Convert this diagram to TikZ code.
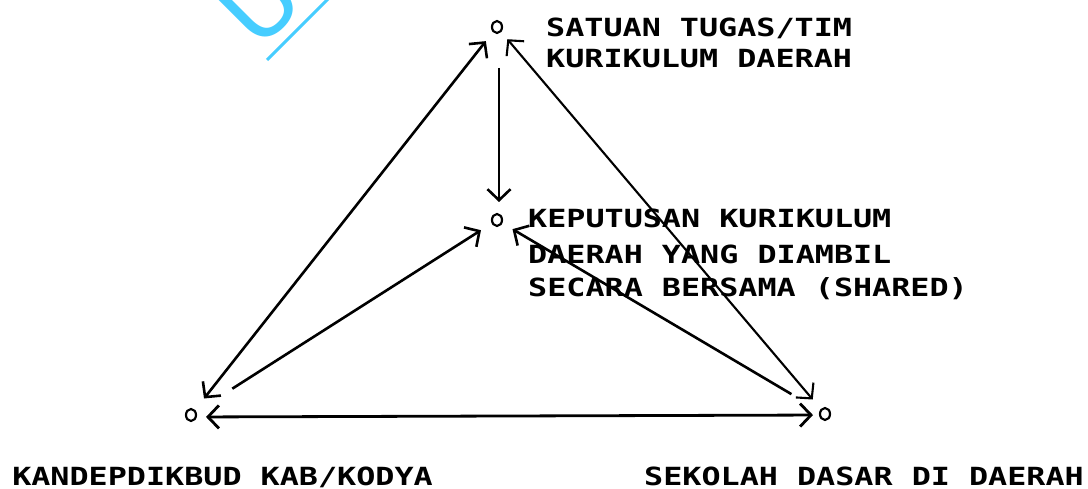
\documentclass[tikz,border=0pt]{standalone}
\usepackage{fontspec}
\usetikzlibrary{arrows.meta,shapes.geometric}
\newfontfamily\dotfont[FakeStretch=1.27]{DejaVu Sans Mono Bold}
\newfontfamily\wmfont{DejaVu Sans}
\definecolor{wmcyan}{RGB}{70,205,255}
\begin{document}
\begin{tikzpicture}[x=1pt,y=-1pt,
  pt/.style={ellipse,draw,line width=2.2pt,minimum width=10pt,minimum height=12pt,inner sep=0pt},
  lbl/.style={font=\dotfont\fontsize{25}{31}\selectfont,inner sep=0pt,anchor=base west},
  lblr/.style={font=\dotfont\fontsize{25}{31}\selectfont,inner sep=0pt,anchor=base east},
  conn/.style={line width=2.6pt,-{Straight Barb[length=11pt,width=23pt]}},
  both/.style={line width=2.6pt,{Straight Barb[length=11pt,width=23pt]}-{Straight Barb[length=11pt,width=23pt]}}]
\useasboundingbox (0,0) rectangle (1088,489);
\fill[white] (0,0) rectangle (1088,489);
\begin{scope}
\clip (0,0) rectangle (1088,489);
\node[font=\wmfont\fontsize{95}{95}\selectfont, text=wmcyan, rotate=45, anchor=base west, inner sep=0pt] (wm) at (258,52) {UN};
\draw[wmcyan, line width=3pt] (267,60) -- (345,-18);
\end{scope}
% points
\node[pt] (T) at (497,27) {};
\node[pt] (M) at (497,220) {};
\node[pt] (L) at (191,415) {};
\node[pt] (R) at (825,414) {};
% labels
\node[lbl] (t1) at (546,37) {SATUAN TUGAS/TIM};
\node[lbl] (t2) at (546,68) {KURIKULUM DAERAH};
\node[lbl] (m1) at (528,228) {KEPUTUSAN KURIKULUM};
\node[lbl] (m2) at (528,264) {DAERAH YANG DIAMBIL};
\node[lbl] (m3) at (528,297) {SECARA BERSAMA (SHARED)};
\node[lblr] (l1) at (433,485) {KANDEPDIKBUD KAB/KODYA};
\node[lbl] (r1) at (644,485) {SEKOLAH DASAR DI DAERAH};
% connectors
\draw[both, shorten <=18pt, shorten >=21pt] (T.center) -- (L.center);
\draw[both, line width=2.1pt, shorten <=16pt, shorten >=19pt] (T.center) -- (R.center);
\draw[conn, shorten <=41pt, shorten >=18pt] ([xshift=2pt]T.center) -- ([xshift=2pt]M.center);
\draw[conn, shorten <=49pt, shorten >=19pt] (L.center) -- (M.center);
\draw[conn, shorten <=39pt, shorten >=18pt] (R.center) -- (M.center);
\draw[both, line width=2.8pt, shorten <=15pt, shorten >=12pt] ([yshift=-2pt]L.center) -- ([yshift=-1pt]R.center);
\end{tikzpicture}
\end{document}
